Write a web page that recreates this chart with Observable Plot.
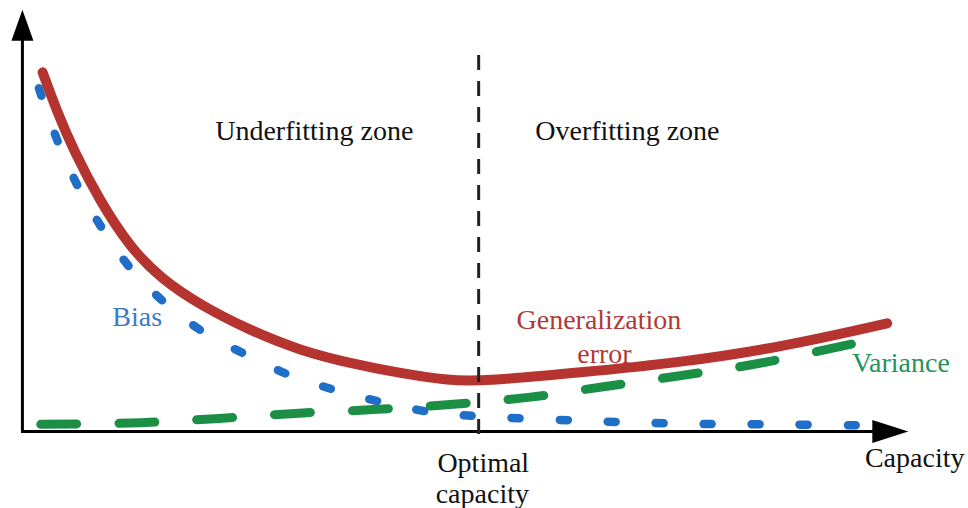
<!DOCTYPE html>
<html>
<head>
<meta charset="utf-8">
<script src="https://cdn.jsdelivr.net/npm/d3@7"></script>
<script src="https://cdn.jsdelivr.net/npm/@observablehq/plot@0.6"></script>
<style>
  html, body { margin: 0; padding: 0; background: #fff; }
  #chart svg { display: block; }
</style>
</head>
<body>
<div id="chart"></div>
<script>
// Generalization error (red)
const errorX = [2.3, 3.9, 5.7, 8.5, 11.8, 15.2, 19.5, 24.9, 30.4, 35.8, 41.3, 46.7, 50.0, 60.9, 71.8, 82.7, 94.3];
const errorY = [85.3, 75.8, 66.7, 54.9, 43.8, 36.3, 30.0, 24.0, 19.2, 16.2, 13.8, 12.1, 11.9, 14.0, 16.4, 20.0, 25.7];
// Bias (blue, dotted)
const biasX = [1.9, 4.0, 6.2, 8.8, 11.9, 15.7, 19.9, 24.6, 29.3, 34.4, 39.4, 44.9, 50.0, 60.6, 71.0, 81.9, 93.6];
const biasY = [81.5, 68.6, 58.0, 48.2, 38.7, 30.4, 23.5, 18.1, 13.3, 9.7, 6.9, 4.5, 3.6, 2.6, 1.9, 1.7, 1.4];
// Variance (green, dashed)
const varianceX = [2.1, 13.0, 21.5, 29.8, 38.3, 46.7, 55.2, 63.6, 71.9, 80.4, 91.1];
const varianceY = [1.7, 2.1, 3.1, 4.3, 5.2, 6.4, 8.1, 10.7, 13.3, 16.2, 21.1];
// Optimal capacity
const optimalCapacity = [49.8];
// Text labels
const labelText = ["Underfitting zone", "Overfitting zone", "Bias", "Generalization", "error", "Variance", "Optimal", "capacity", "Capacity"];
const labelX = [31.9, 66.0, 12.6, 62.9, 63.5, 95.8, 50.3, 50.2, 97.3];
const labelY = [71.3, 71.3, 27.3, 26.4, 18.3, 16.2, -7.4, -14.8, -6.2];
const labelColor = ["#111", "#111", "#3a7cc6", "#b03a36", "#b03a36", "#27925a", "#111", "#111", "#111"];

const zip = (xs, ys) => xs.map((x, i) => ({x, y: ys[i]}));
const errorData = zip(errorX, errorY);
const biasData = zip(biasX, biasY);
const varianceData = zip(varianceX, varianceY);
const labels = labelText.map((t, i) => ({t, x: labelX[i], y: labelY[i], c: labelColor[i]}));

const upArrow = {draw(ctx) { ctx.moveTo(0, 0); ctx.lineTo(-11, 31); ctx.lineTo(11, 31); ctx.closePath(); }};
const rightArrow = {draw(ctx) { ctx.moveTo(0, 0); ctx.lineTo(-36, -11.5); ctx.lineTo(-36, 11.5); ctx.closePath(); }};

const serif = "'Liberation Serif', 'Times New Roman', serif";

const chart = Plot.plot({
  width: 968,
  height: 508,
  marginLeft: 21,
  marginRight: 29,
  marginTop: 10,
  marginBottom: 77,
  style: {fontFamily: serif, background: "#fff"},
  x: {domain: [0, 100], axis: null},
  y: {domain: [0, 100], axis: null},
  marks: [
    Plot.ruleX([0.1], {y1: 0, y2: 95, stroke: "#000", strokeWidth: 3}),
    Plot.ruleY([0], {x1: 0, x2: 94, stroke: "#000", strokeWidth: 3}),
    Plot.line(biasData, {x: "x", y: "y", curve: "catmull-rom", stroke: "#1f6fc8", strokeWidth: 8.5, strokeLinecap: "round", strokeDasharray: "8,40"}),
    Plot.line(varianceData, {x: "x", y: "y", curve: "catmull-rom", stroke: "#1c8f46", strokeWidth: 9, strokeLinecap: "round", strokeDasharray: "36,42"}),
    Plot.line(errorData, {x: "x", y: "y", curve: "basis", stroke: "#b5342f", strokeWidth: 10, strokeLinecap: "round"}),
    Plot.ruleX(optimalCapacity, {y1: -0.7, y2: 89.8, stroke: "#222", strokeWidth: 3, strokeDasharray: "15,11"}),
    Plot.dot([{x: 0.1, y: 100.2}], {x: "x", y: "y", symbol: upArrow, fill: "#000", stroke: null, r: 10}),
    Plot.dot([{x: 96.6, y: 0}], {x: "x", y: "y", symbol: rightArrow, fill: "#000", stroke: null, r: 10}),
    Plot.text(labels, {x: "x", y: "y", text: "t", fill: "c", fontSize: 28, fontFamily: serif, textAnchor: "middle", lineAnchor: "middle"})
  ]
});
document.getElementById("chart").appendChild(chart);
</script>
</body>
</html>
